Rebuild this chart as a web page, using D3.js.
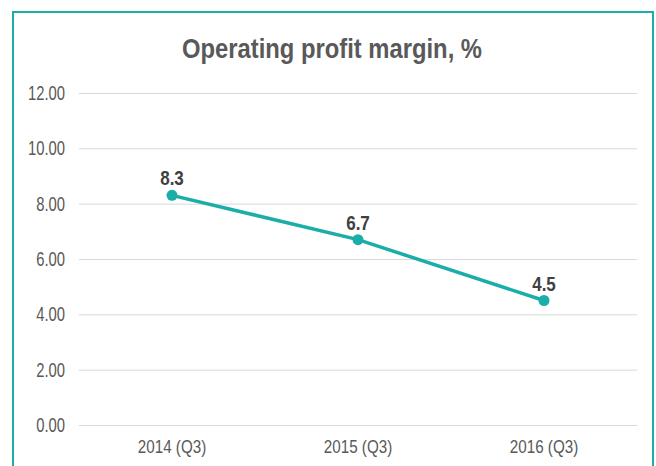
<!DOCTYPE html>
<html><head><meta charset="utf-8">
<script src="https://cdn.jsdelivr.net/npm/d3@7"></script>
<style>body{margin:0;background:#fff}svg{display:block}</style>
</head><body>
<script>
const categories = ["2014 (Q3)", "2015 (Q3)", "2016 (Q3)"];
const values = [8.3, 6.7, 4.5];
const yTicks = [0, 2, 4, 6, 8, 10, 12];
const title = "Operating profit margin, %";

const W = 656, H = 466;
const FONT = "'Liberation Sans', Arial, sans-serif";
const svg = d3.select("body").append("svg").attr("width", W).attr("height", H);
svg.append("rect").attr("x", 13).attr("y", 12).attr("width", 640).attr("height", 470)
  .attr("fill", "#fff").attr("stroke", "#1BADA8").attr("stroke-width", 2);

const x = d3.scaleBand().domain(categories).range([79, 637]);
const y = d3.scaleLinear().domain([0, 12]).range([425, 93]);

function sqText(g, tx, ty, sx) {
  return g.append("text").attr("transform", `translate(${tx},${ty}) scale(${sx},1)`)
    .attr("font-family", FONT);
}

sqText(svg, 332, 58, 0.85).attr("text-anchor", "middle").attr("font-weight", "bold")
  .attr("font-size", 28).attr("fill", "#595959").text(title);

const yAxis = svg.append("g").attr("transform", "translate(79,0)")
  .call(d3.axisLeft(y).tickValues(yTicks).tickSize(-558).tickFormat(""));
yAxis.select(".domain").remove();
yAxis.selectAll("line").attr("stroke", "#d9d9d9");
yTicks.forEach(t => {
  sqText(svg, 65, y(t) + 7, 0.76).attr("text-anchor", "end").attr("font-size", 19.5)
    .attr("fill", "#595959").text(d3.format(".2f")(t));
});

const xAxis = svg.append("g").attr("transform", "translate(0,425)")
  .call(d3.axisBottom(x).tickSize(0).tickFormat(""));
xAxis.select(".domain").attr("stroke", "#d9d9d9");
categories.forEach(c => {
  sqText(svg, x(c) + x.bandwidth() / 2, 453, 0.8).attr("text-anchor", "middle").attr("font-size", 19)
    .attr("fill", "#595959").text(c);
});

const cx = d => x(d) + x.bandwidth() / 2;
const line = d3.line().x((d, i) => cx(categories[i])).y(d => y(d));
svg.append("path").datum(values).attr("d", line).attr("fill", "none")
  .attr("stroke", "#1BADA8").attr("stroke-width", 3.5);
svg.selectAll("circle.pt").data(values).join("circle").attr("class", "pt")
  .attr("cx", (d, i) => cx(categories[i])).attr("cy", d => y(d)).attr("r", 5.5).attr("fill", "#1BADA8");
values.forEach((v, i) => {
  sqText(svg, cx(categories[i]), y(v) - 10, 0.85).attr("text-anchor", "middle")
    .attr("font-weight", "bold").attr("font-size", 20).attr("fill", "#404040").text(v.toFixed(1));
});
</script>
</body></html>
